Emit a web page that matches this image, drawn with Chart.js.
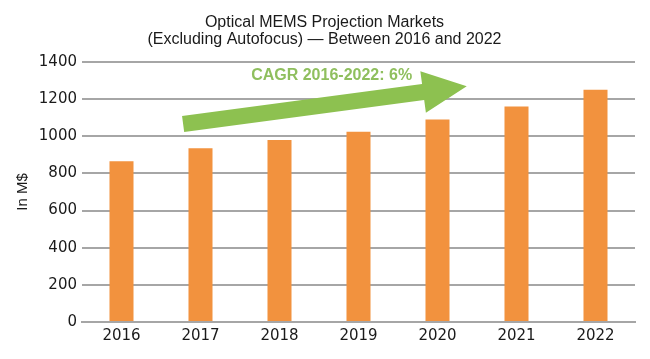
<!DOCTYPE html>
<html>
<head>
<meta charset="utf-8">
<script src="https://cdn.jsdelivr.net/npm/chart.js@4/dist/chart.umd.min.js"></script>
<style>
  html, body { margin: 0; padding: 0; background: #ffffff; }
  #wrap { width: 650px; height: 359px; position: relative; }
</style>
</head>
<body>
<div id="wrap"><canvas id="c" width="650" height="359"></canvas></div>
<script>
const categories = ['2016', '2017', '2018', '2019', '2020', '2021', '2022'];
const marketValues = [865, 935, 980, 1025, 1090, 1160, 1250];
const yTicks = [0, 200, 400, 600, 800, 1000, 1200, 1400];
const titleLines = ['Optical MEMS Projection Markets', '(Excluding Autofocus) \u2014 Between 2016 and 2022'];
const yAxisTitle = 'In M$';
const cagrLabel = 'CAGR 2016-2022: 6%';
// arrow annotation anchored in data space (category index, value)
const arrowStart = [0.78, 1066];
const arrowEnd = [4.37, 1270];
const labelAnchor = [2.66, 1329];

const arrowPlugin = {
  id: 'cagrArrow',
  afterDatasetsDraw(chart) {
    const { ctx, scales: { x, y } } = chart;
    const x0 = x.getPixelForValue(arrowStart[0]), y0 = y.getPixelForValue(arrowStart[1]);
    const x1 = x.getPixelForValue(arrowEnd[0]), y1 = y.getPixelForValue(arrowEnd[1]);
    const dx = x1 - x0, dy = y1 - y0, len = Math.hypot(dx, dy);
    const ux = dx / len, uy = dy / len, nx = -uy, ny = ux;
    const shaftW = 8, headW = 21, headL = 44;
    const bx = x1 - ux * headL, by = y1 - uy * headL;
    ctx.save();
    ctx.fillStyle = '#8dc150';
    ctx.beginPath();
    ctx.moveTo(x0 + nx * shaftW, y0 + ny * shaftW);
    ctx.lineTo(bx + nx * shaftW, by + ny * shaftW);
    ctx.lineTo(bx + nx * headW, by + ny * headW);
    ctx.lineTo(x1, y1);
    ctx.lineTo(bx - nx * headW, by - ny * headW);
    ctx.lineTo(bx - nx * shaftW, by - ny * shaftW);
    ctx.lineTo(x0 - nx * shaftW, y0 - ny * shaftW);
    ctx.closePath();
    ctx.fill();
    const tx = x.getPixelForValue(labelAnchor[0]), ty = y.getPixelForValue(labelAnchor[1]);
    ctx.fillStyle = '#8fbf5e';
    ctx.font = 'bold 16px "Liberation Sans", Arial, sans-serif';
    ctx.textAlign = 'center';
    ctx.textBaseline = 'middle';
    ctx.fillText(cagrLabel, tx, ty);
    ctx.restore();
  }
};

new Chart(document.getElementById('c'), {
  type: 'bar',
  data: {
    labels: categories,
    datasets: [{
      data: marketValues,
      backgroundColor: '#f2923e',
      borderWidth: 0,
      barPercentage: 0.38,
      categoryPercentage: 0.8
    }]
  },
  options: {
    responsive: false,
    animation: false,
    devicePixelRatio: 1,
    layout: { padding: { left: 14, right: 15, top: 4, bottom: 0 } },
    plugins: {
      legend: { display: false },
      tooltip: { enabled: false },
      title: {
        display: true,
        text: titleLines,
        color: '#1a1a1a',
        font: { family: '"Liberation Sans", Arial, sans-serif', size: 16, weight: 'normal', lineHeight: '17px' },
        padding: { top: 10, bottom: 14 }
      }
    },
    scales: {
      x: {
        grid: { display: false, drawTicks: false },
        border: { display: true, color: '#a6a6a6', width: 2 },
        ticks: { color: '#1a1a1a', font: { family: '"DejaVu Sans", sans-serif', size: 15 }, padding: 5, maxRotation: 0 },
        afterFit(scale) { scale.height = 37; }
      },
      y: {
        min: 0, max: 1400,
        afterBuildTicks(scale) { scale.ticks = yTicks.map(v => ({ value: v })); },
        grid: { color: '#a6a6a6', lineWidth: 2, drawTicks: false },
        border: { display: false },
        ticks: { color: '#1a1a1a', font: { family: '"DejaVu Sans", sans-serif', size: 15 }, padding: 5, callback: (v) => String(v) },
        title: { display: true, text: yAxisTitle, color: '#1a1a1a', font: { family: '"Liberation Sans", Arial, sans-serif', size: 15 }, padding: { top: 0, bottom: 0 } },
        afterFit(scale) { scale.width = 68; }
      }
    }
  },
  plugins: [arrowPlugin]
});
</script>
</body>
</html>
